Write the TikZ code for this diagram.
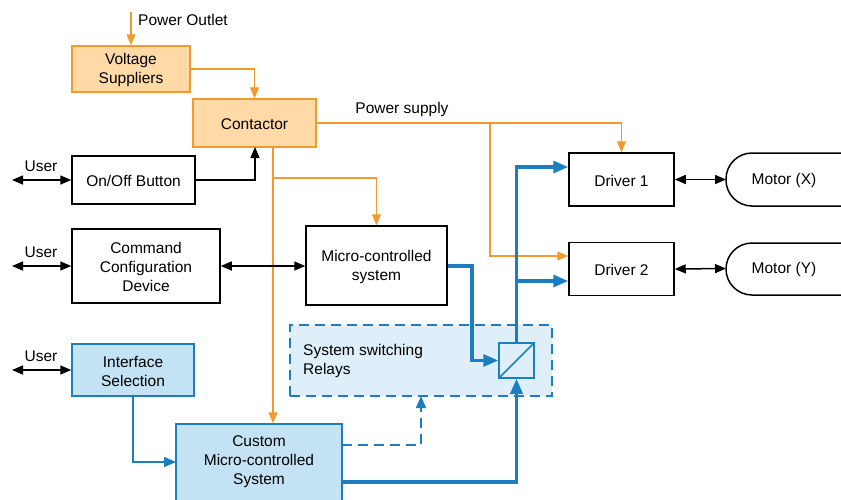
\documentclass[tikz,border=0pt]{standalone}
\usepackage{fontspec}
\setmainfont{Liberation Sans}
\usetikzlibrary{arrows.meta}
\definecolor{orln}{HTML}{F29A2E}
\definecolor{orfill}{HTML}{FFD9A6}
\definecolor{blln}{HTML}{1A7EC1}
\definecolor{blfill}{HTML}{C3E3F5}
\definecolor{blbg}{HTML}{DFEFFA}
\tikzset{
  every node/.style={font=\fontsize{15.5}{19}\selectfont, align=center, inner sep=0pt},
  blk/.style={draw=black, line width=1.5pt, fill=white},
  obox/.style={draw=orln, line width=1.5pt, fill=orfill},
  bbox/.style={draw=blln, line width=1.5pt, fill=blfill},
  oline/.style={draw=orln, line width=1.4pt, -{Triangle[length=11pt,width=9pt]}},
  kline/.style={draw=black, line width=1.5pt, -{Triangle[length=11pt,width=9pt]}},
  kboth/.style={draw=black, line width=1.5pt, {Triangle[length=11pt,width=9pt]}-{Triangle[length=11pt,width=9pt]}},
  bthick/.style={draw=blln, line width=3.2pt, -{Triangle[length=15pt,width=12pt]}},
  bthin/.style={draw=blln, line width=1.5pt, -{Triangle[length=12pt,width=10pt]}},
  bdash/.style={draw=blln, line width=1.5pt, dash pattern=on 10pt off 6pt, -{Triangle[length=12pt,width=10pt]}},
}
\begin{document}
\begin{tikzpicture}[x=1pt,y=-1pt]
\useasboundingbox (0,0) rectangle (841,499);
% background relay region
\node[draw=blln, line width=1.5pt, dash pattern=on 10pt off 6pt, fill=blbg, minimum width=262pt, minimum height=71pt] (rbg) at (421,360.5) {};
\node[anchor=west, align=left] (rtxt) at (303,361) {System switching\\Relays};
\node[draw=blln, line width=1.5pt, fill=blbg, minimum width=35pt, minimum height=35pt] (relay) at (516.5,360.5) {};
\draw[blln, line width=1.5pt] (relay.south west) -- (relay.north east);

% boxes
\node[obox, minimum width=118pt, minimum height=46pt] (vs) at (131,69) {};
\node (vstxt) at (131,70) {Voltage\\Suppliers};
\node[obox, minimum width=123pt, minimum height=48pt] (ct) at (254.5,123) {};
\node (cttxt) at (254.5,124) {Contactor};
\node[blk, minimum width=123pt, minimum height=48pt] (onoff) at (133.5,180) {};
\node (ontxt) at (133.5,181) {On/Off Button};
\node[blk, minimum width=148pt, minimum height=74pt] (ccd) at (146,266) {};
\node (ccdtxt) at (146,267) {Command\\Configuration\\Device};
\node[blk, minimum width=141pt, minimum height=79pt] (mcs) at (376.5,265.5) {};
\node (mcstxt) at (376.5,267) {Micro-controlled\\system};
\node[bbox, minimum width=122pt, minimum height=52pt] (isel) at (133,370) {};
\node (istxt) at (133,371) {Interface\\Selection};
\node[bbox, minimum width=166pt, minimum height=84pt] (cmcs) at (259,466) {};
\node (cmtxt) at (259,462) {Custom\\Micro-controlled\\System};
\node[blk, minimum width=105pt, minimum height=53pt] (d1) at (621.5,179.5) {};
\node (d1txt) at (621.5,180.5) {Driver 1};
\node[blk, minimum width=105pt, minimum height=53pt] (d2) at (621.5,269) {};
\node (d2txt) at (621.5,270) {Driver 2};
\draw[black, line width=1.5pt, fill=white, rounded corners=26pt] (726,153) rectangle (880,206);
\node (mx) at (784,180.5) {Motor (X)};
\coordinate (mxw) at (726,179.5);
\draw[black, line width=1.5pt, fill=white, rounded corners=26pt] (726,243) rectangle (880,295);
\node (my) at (784,269.5) {Motor (Y)};
\coordinate (myw) at (726,268.5);

% power lines
\coordinate (po) at (131,12);
\draw[oline] (po) -- (vs.north);
\node[anchor=west] (potxt) at (138,20) {Power Outlet};
\draw[oline] (vs.east) -| (ct.north);
\draw[oline] (ct.east) -| (d1.north);
\node (pstxt) at (402,109) {Power supply};
\coordinate (j1) at (490,123);
\draw[oline] (j1) |- ([yshift=13pt]d2.west);
\coordinate (cs) at (273,147);
\draw[oline] (cs) -- (cs |- cmcs.north);
\coordinate (j2) at (273,178);
\draw[oline] (j2) -| (mcs.north);

% black links
\coordinate (ob) at (255,147);
\draw[kline] (onoff.east) -| (ob);
\coordinate (u1) at (12,180);
\draw[kboth] (u1) -- (onoff.west);
\node (user1) at (41,166) {User};
\coordinate (u2) at (12,266);
\draw[kboth] (u2) -- (ccd.west);
\node (user2) at (41,252) {User};
\coordinate (u3) at (12,370);
\draw[kboth] (u3) -- (isel.west);
\node (user3) at (41,356) {User};
\draw[kboth] (ccd.east) -- (mcs.west |- ccd.east);
\draw[kboth] (d1.east) -- (mxw);
\draw[kboth] (d2.east) -- (myw);

% blue links
\coordinate (m1) at (472,266);
\draw[bthick] (mcs.east |- m1) -- (m1) |- (relay.west);
\coordinate (rt) at (516.5,167);
\draw[bthick] (relay.north) -- (rt) -- ([yshift=12.5pt]d1.west);
\coordinate (rb) at (516.5,281);
\draw[bthick] (rb) -- ([yshift=-12pt]d2.west);
\coordinate (cm1) at (342,482);
\draw[bthick] (cm1) -| (relay.south);
\coordinate (cm2) at (342,445);
\coordinate (dt) at (421,396);
\draw[bdash] (cm2) -| (dt);
\coordinate (ci) at (176,462);
\draw[bthin] (isel.south) |- (ci);
\end{tikzpicture}
\end{document}
